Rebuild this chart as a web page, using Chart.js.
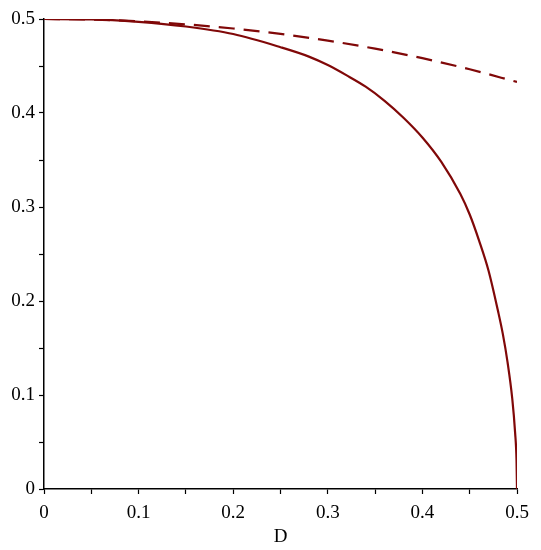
<!DOCTYPE html>
<html>
<head>
<meta charset="utf-8">
<script src="https://cdn.jsdelivr.net/npm/chart.js@4"></script>
<style>
  html, body { margin: 0; padding: 0; background: #fff; }
  #wrap { width: 541px; height: 550px; }
</style>
</head>
<body>
<div id="wrap"><canvas id="plot"></canvas></div>
<script>
// valores
const solidD = [0, 0.05, 0.1, 0.15, 0.2, 0.25, 0.28, 0.3, 0.32, 0.34, 0.36, 0.38, 0.4, 0.42, 0.44, 0.45, 0.46, 0.47, 0.48, 0.485, 0.49, 0.495, 0.498, 0.4995, 0.5];
const solidY = [0.5, 0.4997, 0.497, 0.492, 0.484, 0.470, 0.460, 0.451, 0.440, 0.428, 0.413, 0.395, 0.374, 0.348, 0.314, 0.292, 0.264, 0.232, 0.189, 0.165, 0.135, 0.096, 0.060, 0.030, 0];

const dashD = [0, 0.05, 0.1, 0.15, 0.2, 0.25, 0.3, 0.35, 0.4, 0.45, 0.5];
const dashY = [0.5, 0.4994, 0.4975, 0.4943, 0.4899, 0.4841, 0.4770, 0.4684, 0.4583, 0.4465, 0.4330];

const xTicks = [0, 0.1, 0.2, 0.3, 0.4, 0.5];
const yTicks = [0, 0.1, 0.2, 0.3, 0.4, 0.5];

const red = '#800808';
const serif = { family: '"Liberation Serif", "Times New Roman", serif', size: 19 };

function pts(xs, ys) {
    return xs.map((x, i) => ({ x: x, y: ys[i] }));
}

function tickLabel(list) {
    return function (v) {
        const hit = list.find(t => Math.abs(t - v) < 1e-9);
        return hit === undefined ? '' : String(hit);
    };
}

new Chart(document.getElementById('plot'), {
    type: 'line',
    data: {
        datasets: [
            {
                data: pts(solidD, solidY),
                borderColor: red,
                borderWidth: 2.2,
                pointRadius: 0,
                cubicInterpolationMode: 'monotone'
            },
            {
                data: pts(dashD, dashY),
                borderColor: red,
                borderWidth: 2.2,
                borderDash: [16, 9],
                pointRadius: 0,
                cubicInterpolationMode: 'monotone'
            }
        ]
    },
    options: {
        responsive: true,
        maintainAspectRatio: false,
        animation: false,
        layout: { padding: { top: 19, right: 24, left: 0, bottom: 2 } },
        plugins: { legend: { display: false }, tooltip: { enabled: false } },
        scales: {
            x: {
                type: 'linear',
                min: 0,
                max: 0.5,
                ticks: {
                    stepSize: 0.05,
                    autoSkip: false,
                    maxRotation: 0,
                    color: '#000',
                    font: serif,
                    padding: 8,
                    callback: tickLabel(xTicks)
                },
                grid: { drawOnChartArea: false, drawTicks: true, tickLength: 5, tickColor: '#000', tickWidth: 1.2 },
                border: { color: '#000', width: 1.5 },
                title: { display: true, text: 'D', color: '#000', font: serif, padding: { top: 0, bottom: 0 } },
                afterFit: function (s) { s.height = 59; }
            },
            y: {
                type: 'linear',
                min: 0,
                max: 0.5,
                ticks: {
                    stepSize: 0.05,
                    autoSkip: false,
                    color: '#000',
                    font: serif,
                    padding: 4,
                    callback: tickLabel(yTicks)
                },
                grid: { drawOnChartArea: false, drawTicks: true, tickLength: 5, tickColor: '#000', tickWidth: 1.2 },
                border: { color: '#000', width: 1.5 },
                afterFit: function (s) { s.width = 44; }
            }
        }
    }
});
</script>
</body>
</html>
